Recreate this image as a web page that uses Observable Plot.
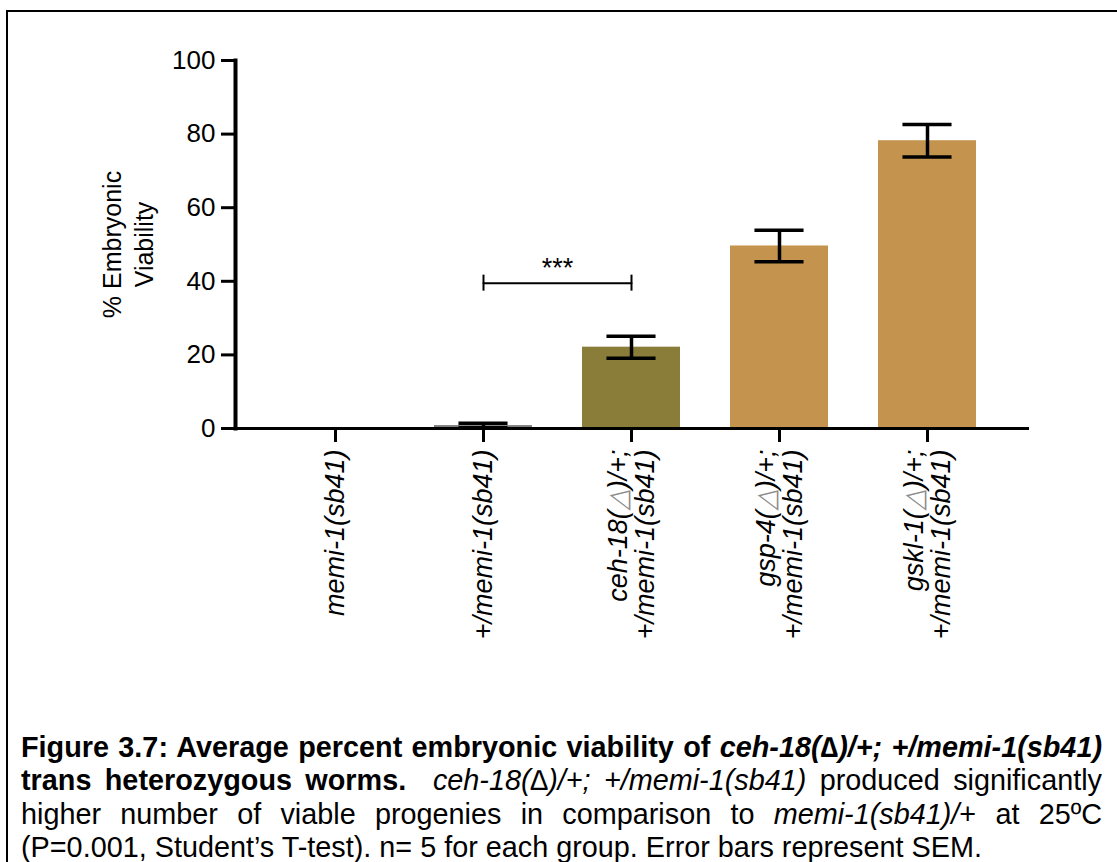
<!DOCTYPE html>
<html>
<head>
<meta charset="utf-8">
<script src="https://cdn.jsdelivr.net/npm/d3@7"></script>
<script src="https://cdn.jsdelivr.net/npm/@observablehq/plot@0.6"></script>
<style>
  html, body { margin: 0; padding: 0; background: #fff; }
  #page { position: relative; width: 1117px; height: 862px; overflow: hidden;
          font-family: "Liberation Sans", Arial, sans-serif; color: #000; }
  #border { position: absolute; left: 6px; top: 10px; width: 1300px; height: 1000px;
            border: 2px solid #000; }
  #chart { position: absolute; left: 0; top: 0; }
  #caption { position: absolute; left: 21px; top: 731px; width: 1081px;
             font-size: 28.8px; line-height: 33.3px; }
  #caption div { white-space: nowrap; }
  #caption .j { text-align: justify; text-align-last: justify; }
</style>
</head>
<body>
<div id="page">
  <div id="border"></div>
  <div id="chart"></div>
  <div id="caption">
    <div class="j"><b>Figure 3.7: Average percent embryonic viability of <i>ceh-18(∆)/+; +/memi-1(sb41)</i></b></div>
    <div class="j"><b>trans heterozygous worms.</b>&nbsp; <i>ceh-18(∆)/+; +/memi-1(sb41)</i> produced significantly</div>
    <div class="j">higher number of viable progenies in comparison to <i>memi-1(sb41)/</i>+ at 25ºC</div>
    <div>(P=0.001, Student’s T-test). n= 5 for each group. Error bars represent SEM.</div>
  </div>
</div>
<script>
// Genotypes on the x axis (two-line labels break at "\n")
const genotypes = [
  "memi-1(sb41)",
  "+/memi-1(sb41)",
  "ceh-18(△)/+;\n+/memi-1(sb41)",
  "gsp-4(△)/+;\n+/memi-1(sb41)",
  "gskl-1(△)/+;\n+/memi-1(sb41)"
];
// Mean % embryonic viability and SEM (n = 5 per group)
const viability = [0, 0.8, 22.1, 49.6, 78.2];
const sem = [0, 0.6, 3.0, 4.3, 4.4];
const barColors = ["#808080", "#808080", "#8a7c39", "#c4944f", "#c4944f"];
const yTicks = [0, 20, 40, 60, 80, 100];
const yLabel = "% Embryonic\nViability";
// Student's t-test comparison drawn as a bracket
const comparison = [genotypes[1], genotypes[2]];
const comparisonLevel = 39.5;
const significance = "***";

const data = genotypes.map((g, i) => ({genotype: g, mean: viability[i], sem: sem[i], color: barColors[i]}));
const withError = data.filter(d => d.sem > 0);
const bracket = comparison.map(g => ({genotype: g, y: comparisonLevel}));

const W = 1117, H = 700;
const mL = 235, mR = 90, mT = 60, mB = H - 428;
const xOptions = {domain: genotypes, paddingInner: 0.34, paddingOuter: 0.342};
const band = d3.scaleBand().domain(genotypes).range([mL, W - mR])
  .paddingInner(xOptions.paddingInner).paddingOuter(xOptions.paddingOuter);
const capInset = band.bandwidth() / 4;
const stroke = "#000";

const chart = Plot.plot({
  width: W, height: H,
  marginLeft: mL, marginRight: mR, marginTop: mT, marginBottom: mB,
  style: {fontFamily: "'Liberation Sans', Arial, sans-serif", color: "#000", background: "transparent", overflow: "visible"},
  x: {...xOptions, label: null},
  y: {domain: [0, 100], label: null},
  color: {type: "identity"},
  marks: [
    Plot.barY(data, {x: "genotype", y: "mean", fill: "color"}),
    // SEM error bars
    Plot.ruleX(withError, {x: "genotype", y1: d => d.mean - d.sem, y2: d => d.mean + d.sem, stroke, strokeWidth: 3.5}),
    Plot.tickY(withError, {x: "genotype", y: d => d.mean + d.sem, stroke, strokeWidth: 3.5, inset: capInset}),
    Plot.tickY(withError, {x: "genotype", y: d => d.mean - d.sem, stroke, strokeWidth: 3.5, inset: capInset}),
    // significance bracket
    Plot.lineY(bracket, {x: "genotype", y: "y", stroke, strokeWidth: 2}),
    Plot.ruleX(bracket, {x: "genotype", y1: "y", y2: "y", stroke, strokeWidth: 2, insetTop: -8, insetBottom: -8}),
    Plot.text([{genotype: comparison[0], y: comparisonLevel, label: significance}],
      {x: "genotype", y: "y", text: "label", dx: band.step() / 2, dy: -15, fontSize: 27, fill: stroke}),
    // axes
    Plot.axisY({ticks: yTicks, tickSize: 14, tickPadding: 6, fontSize: 26, strokeWidth: 3, label: null}),
    Plot.axisX({tickRotate: -90, tickSize: 14, tickPadding: 7, fontSize: 27, strokeWidth: 3, label: null}),
    Plot.frame({anchor: "left", strokeWidth: 4}),
    Plot.frame({anchor: "bottom", strokeWidth: 3}),
    Plot.text([yLabel], {frameAnchor: "left", rotate: -90, dx: -108.5, fontSize: 25, lineHeight: 1.25,
      textAnchor: "middle", lineAnchor: "middle", fill: stroke})
  ]
});

// italic genotype labels, with the deletion triangle in a lighter outline
d3.select(chart).selectAll('g[aria-label="x-axis tick label"] text').style("font-style", "italic");
d3.select(chart).selectAll('g[aria-label="x-axis tick label"] tspan').each(function () {
  const s = this.textContent;
  if (s.includes("△")) {
    const [before, after] = s.split("△");
    const el = d3.select(this).text(null);
    el.append("tspan").text(before);
    el.append("tspan").attr("fill", "#8c8c8c").text("△");
    el.append("tspan").text(after);
  }
});
document.getElementById("chart").appendChild(chart);
</script>
</body>
</html>
